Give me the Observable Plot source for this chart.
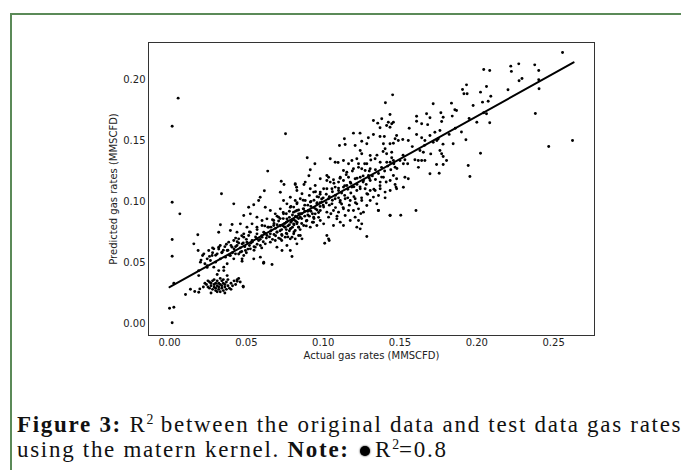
<!DOCTYPE html>
<html><head><meta charset="utf-8">
<script src="https://cdn.jsdelivr.net/npm/d3@7"></script>
<script src="https://cdn.jsdelivr.net/npm/@observablehq/plot@0.6"></script>
<style>
body{margin:0;background:#fff;}
#wrap{position:relative;width:681px;height:470px;overflow:hidden;background:#fff;}
#border{position:absolute;left:10px;top:13px;width:720px;height:520px;border-left:2px solid #5b8a58;border-top:2px solid #5b8a58;}
#chart{position:absolute;left:0;top:0;}
.cap{position:absolute;left:17px;font-family:"Liberation Serif","DejaVu Serif",serif;font-size:23px;line-height:26px;letter-spacing:1.7px;color:#111;white-space:nowrap;}
#cap1{top:412px;}
#cap2{top:437px;}
.cap sup{font-size:0.6em;line-height:0;vertical-align:0.6em;letter-spacing:0;}
.dot{display:inline-block;width:10px;height:10px;border-radius:50%;background:#000;box-shadow:0 0 2px #000;vertical-align:1px;margin:0 5px 0 3px;}
</style></head>
<body>
<div id="wrap">
<div id="border"></div>
<div id="chart"></div>
<div class="cap" id="cap1"><b>Figure 3:</b> R<sup>2</sup> between the original data and test data gas rates</div>
<div class="cap" id="cap2">using the matern kernel. <b>Note:</b> <span class="dot"></span>R<sup>2</sup>=0.8</div>
</div>
<script>
// Tick values
const xTicks = [0, 0.05, 0.10, 0.15, 0.20, 0.25];
const yTicks = [0, 0.05, 0.10, 0.15, 0.20];

// Fitted line (actual -> predicted)
const lineActual = [0, 0.263];
const linePredicted = [0.0298, 0.214];

// Scatter points [actual, predicted], grouped by region
const leftEdge = [[0.0017,0.1617],[0.0056,0.1847],[0.0017,0.0994],[0.0067,0.0899],[0.0017,0.0689],[0.0017,0.0552],[0.0000,0.0125],[0.0028,0.0134],[0.0017,0.0006],[0.0028,0.0330],[0.0104,0.0238],[0.0136,0.0281],[0.0164,0.0262],[0.0197,0.0284],[0.0190,0.0257],[0.0158,0.0653],[0.0184,0.0727],[0.0186,0.0598]];

const lowCluster = [[0.024,0.032],[0.025,0.030],[0.026,0.034],[0.026,0.029],[0.027,0.031],[0.027,0.033],[0.028,0.028],[0.028,0.035],[0.029,0.030],[0.029,0.032],[0.030,0.027],[0.030,0.029],[0.030,0.033],[0.031,0.031],[0.031,0.035],[0.032,0.028],[0.032,0.030],[0.032,0.033],[0.033,0.026],[0.033,0.032],[0.034,0.029],[0.034,0.031],[0.034,0.035],[0.035,0.027],[0.035,0.033],[0.036,0.030],[0.036,0.032],[0.037,0.028],[0.037,0.034],[0.038,0.031],[0.038,0.036],[0.039,0.029],[0.040,0.033],[0.041,0.031],[0.042,0.035],[0.043,0.032],[0.044,0.036],[0.046,0.034],[0.048,0.030],[0.029,0.036],[0.031,0.026],[0.027,0.025],[0.035,0.036],[0.033,0.037],[0.025,0.035],[0.022,0.030],[0.023,0.033],[0.040,0.028],[0.036,0.025],[0.045,0.037],[0.0440,0.0347],[0.0479,0.0306]];

const bandLow = [[0.019,0.0393],[0.031,0.0402],[0.0375,0.0393],[0.0353,0.0434],[0.0472,0.0511],[0.0612,0.0494],[0.0667,0.0484],
[0.0338,0.1063],[0.0418,0.0981],[0.0331,0.0809],[0.032,0.0748],[0.0407,0.0811],[0.0461,0.0817],[0.0205,0.052],[0.0215,0.0557],[0.023,0.049],[0.0245,0.046],[0.026,0.055],[0.028,0.058],
[0.0639,0.1249],[0.059,0.1035],[0.0623,0.0953],[0.058,0.1008],[0.0548,0.0973],[0.0483,0.0885],[0.0526,0.0899],[0.0515,0.0953],[0.0569,0.0872],[0.0602,0.0844],[0.0634,0.0858],[0.0504,0.079],[0.0537,0.0817],[0.0569,0.079],[0.0602,0.0803],[0.0645,0.079],[0.0396,0.0762],[0.0439,0.0749],[0.0483,0.0735],[0.0526,0.0749],[0.0569,0.0735],[0.0613,0.0749],
[0.0223,0.0571],[0.0255,0.0598],[0.0288,0.0612],[0.032,0.0626],[0.0245,0.053],[0.0277,0.0557],[0.031,0.0571],[0.0342,0.0585],[0.0375,0.0598],[0.0407,0.0626],[0.0439,0.064],[0.0472,0.0653],[0.0504,0.0667],[0.0537,0.068],[0.0569,0.0694],[0.0602,0.0708],[0.0634,0.0721],
[0.0266,0.0516],[0.0299,0.0503],[0.0331,0.053],[0.0364,0.0544],[0.0396,0.0557],[0.0429,0.0571],[0.0461,0.0585],[0.0494,0.0598],[0.0526,0.0612],[0.0558,0.0626],[0.0591,0.064],[0.0623,0.0653],
[0.0385,0.0667],[0.0418,0.068],[0.045,0.0694],[0.0483,0.0708],[0.0515,0.0721],
[0.0201,0.0503],[0.0245,0.0475],[0.0190,0.0434],[0.0288,0.0462],[0.0353,0.0462],[0.0375,0.049],[0.032,0.0434],[0.0418,0.053],[0.0472,0.053],[0.0483,0.0557],[0.0548,0.053],[0.0591,0.0544],[0.0613,0.0503],
[0.06,0.072],[0.058,0.068],[0.056,0.071],[0.054,0.067],[0.052,0.064],[0.05,0.069],[0.048,0.066],[0.046,0.062],[0.044,0.067],[0.042,0.061],[0.04,0.064],[0.038,0.06],[0.036,0.063],[0.034,0.058],[0.032,0.061],[0.03,0.056],[0.028,0.062],[0.062,0.074],[0.064,0.079],[0.0617,0.1088],
[0.041,0.058],[0.043,0.063],[0.045,0.066],[0.047,0.059],[0.049,0.063],[0.051,0.061],[0.053,0.066],[0.055,0.063],[0.057,0.065],[0.059,0.069],[0.061,0.067],[0.063,0.07],[0.045,0.057],[0.050,0.058],[0.055,0.06],[0.060,0.062],[0.039,0.056],[0.037,0.065],[0.043,0.070],[0.047,0.072],[0.052,0.075],[0.057,0.077],[0.062,0.080],[0.035,0.060],[0.033,0.064]];

const bandMid = [[0.0721,0.1076],[0.0786,0.1035],[0.0764,0.0981],[0.0742,0.1008],[0.0656,0.0926],[0.0688,0.0899],[0.0721,0.094],[0.0786,0.0953],[0.0807,0.0913],[0.0829,0.0981],[0.084,0.0899],[0.0678,0.0844],[0.071,0.0872],[0.0742,0.0899],[0.0764,0.0858],[0.0797,0.0844],[0.0829,0.0817],[0.0678,0.0803],[0.0721,0.0803],[0.0753,0.079],[0.0786,0.0776],[0.0818,0.0762],[0.0656,0.0735],[0.0699,0.0749],[0.0732,0.0721],[0.0764,0.0735],[0.0797,0.0708],[0.084,0.0721],
[0.0656,0.0667],[0.0688,0.068],[0.0721,0.0694],[0.0753,0.0708],
[0.0797,0.0549],[0.0786,0.0598],[0.0732,0.0598],[0.0699,0.0626],[0.0764,0.064],[0.0829,0.0653],[0.0818,0.0694],
[0.0755,0.1555],[0.0907,0.1211],[0.0727,0.1166],[0.0745,0.1139],[0.0818,0.1139],[0.0827,0.1117],[0.0875,0.1139],
[0.0981,0.1186],[0.0818,0.1145],[0.0829,0.109],[0.0862,0.1063],[0.0883,0.1159],[0.0916,0.1104],[0.0938,0.1077],[0.0948,0.1131],[0.097,0.1036],[0.0981,0.1077],[0.0818,0.1008],[0.0851,0.1022],[0.0883,0.1008],[0.0916,0.0995],[0.0959,0.0981],[0.0992,0.0995],[0.0808,0.0954],[0.0829,0.0926],[0.0873,0.094],[0.0905,0.0926],[0.0948,0.0899],[0.0981,0.0926],[0.0851,0.0872],[0.0894,0.0844],[0.0938,0.0872],[0.0981,0.0844],[0.0808,0.0817],[0.084,0.079],[0.0873,0.0803],[0.0916,0.079],[0.0959,0.0803],[0.0808,0.0735],[0.0851,0.0721],[0.0862,0.0694],[0.0786,0.0694],[0.0896,0.1358],[0.0916,0.126],[0.0946,0.1309],[0.0937,0.083],
[0.066,0.076],[0.068,0.082],[0.069,0.078],[0.07,0.075],[0.071,0.084],[0.072,0.08],[0.073,0.077],[0.074,0.086],[0.075,0.082],[0.075,0.079],[0.076,0.09],[0.077,0.084],[0.077,0.08],[0.078,0.087],[0.079,0.083],[0.079,0.078],[0.08,0.089],[0.081,0.085],[0.081,0.081],[0.082,0.092],[0.083,0.087],[0.083,0.083],[0.084,0.079],[0.085,0.09],[0.086,0.086],[0.087,0.094],[0.088,0.088],[0.089,0.084],[0.09,0.092],[0.091,0.088],[0.092,0.096],[0.093,0.09],[0.094,0.086],[0.095,0.094],[0.096,0.099],[0.097,0.091],[0.098,0.096],[0.099,0.102],[0.065,0.071],[0.067,0.069],[0.069,0.072],[0.071,0.07],[0.073,0.073],[0.076,0.074],[0.078,0.076],
[0.066,0.079],[0.067,0.085],[0.068,0.073],[0.070,0.081],[0.070,0.088],[0.072,0.076],[0.072,0.086],[0.074,0.080],[0.074,0.091],[0.076,0.083],[0.076,0.077],[0.078,0.081],[0.078,0.092],[0.080,0.085],[0.080,0.079],[0.082,0.088],[0.082,0.084],[0.084,0.086],[0.084,0.093],[0.086,0.090],[0.086,0.082],[0.088,0.092],[0.088,0.097],[0.090,0.089],[0.090,0.097],[0.092,0.092],[0.092,0.1],[0.094,0.095],[0.094,0.101],[0.096,0.093],[0.096,0.104],[0.098,0.099],[0.098,0.106],[0.100,0.097],[0.100,0.103],[0.073,0.068],[0.077,0.071],[0.081,0.075],[0.085,0.077],[0.089,0.080],[0.093,0.083],[0.097,0.087],[0.079,0.096],[0.083,0.099],[0.087,0.101],[0.091,0.105],[0.095,0.108]];

const bandHigh = [[0.1241,0.1418],[0.1251,0.1391],[0.1306,0.1377],[0.1338,0.135],[0.1371,0.1322],[0.1414,0.1322],[0.1436,0.1322],[0.1457,0.1336],[0.1046,0.135],[0.1078,0.1322],[0.1132,0.1336],[0.1165,0.1309],[0.1187,0.1336],[0.1219,0.135],[0.123,0.1309],[0.1284,0.1309],[0.1197,0.1268],[0.1251,0.1268],[0.1273,0.1254],[0.1306,0.1268],[0.1132,0.1254],[0.1154,0.124],[0.1024,0.1213],[0.1024,0.1172],[0.1035,0.1199],[0.1046,0.1159],[0.1111,0.1199],[0.11,0.1159],[0.1132,0.1172],[0.1165,0.1199],[0.1176,0.1159],[0.1208,0.1186],[0.1241,0.1199],[0.1262,0.1172],[0.1295,0.1213],[0.1306,0.1172],[0.1371,0.1159],[0.1392,0.1199],[0.1436,0.1172],[0.1474,0.1118],
[0.1003,0.1104],[0.1024,0.1104],[0.1057,0.1104],[0.1078,0.1118],[0.11,0.109],[0.1132,0.1118],[0.1154,0.1131],[0.1187,0.1118],[0.1219,0.109],[0.1241,0.1104],[0.1273,0.1104],[0.1306,0.109],[0.1338,0.109],[0.1371,0.1104],[0.1403,0.1077],[0.1436,0.109],[0.1284,0.1063],[0.1327,0.1036],[0.136,0.1049],[0.1403,0.103],[0.1306,0.1008],[0.1349,0.0981],
[0.1003,0.0954],[0.1035,0.1022],[0.1057,0.0981],[0.1078,0.1022],[0.1111,0.1008],[0.1143,0.1022],[0.1176,0.1008],[0.1208,0.1022],[0.1219,0.0981],[0.1251,0.1008],[0.1284,0.0967],
[0.1024,0.0913],[0.1067,0.0926],[0.11,0.0913],[0.1132,0.094],[0.1165,0.0926],[0.1197,0.0926],[0.123,0.094],[0.1262,0.0913],[0.1035,0.0872],[0.1089,0.0858],[0.1111,0.0831],[0.1143,0.0885],[0.1176,0.0844],[0.1208,0.0872],[0.123,0.0844],[0.1003,0.0817],[0.1067,0.0803],[0.1132,0.0803],[0.1219,0.079],[0.1251,0.0817],[0.1241,0.0776],[0.136,0.0926],[0.1436,0.0885],[0.1024,0.0721],[0.1035,0.0694],
[0.1435,0.1713],[0.1381,0.1678],[0.1424,0.165],[0.1446,0.1637],[0.1413,0.1623],[0.137,0.1604],[0.1327,0.1664],[0.1355,0.1642],[0.1197,0.156],[0.124,0.156],[0.1327,0.1549],[0.137,0.1533],[0.1398,0.1533],[0.1294,0.1522],[0.1251,0.1494],[0.1138,0.1514],[0.1106,0.1459],[0.1143,0.1467],[0.1208,0.1459],[0.1392,0.1473],[0.1468,0.1514],[0.1489,0.15],[0.1435,0.1473],[0.1403,0.1432],[0.1413,0.1391],[0.1446,0.1404],[0.1284,0.1473],[0.1452,0.1874],[0.1405,0.1809],[0.1097,0.132],[0.1067,0.1178],
[0.101,0.0658],[0.1039,0.068],[0.111,0.0994],[0.1245,0.0901],[0.1284,0.0713],[0.1359,0.0926],[0.1435,0.0888],
[0.102,0.099],[0.102,0.106],[0.104,0.104],[0.104,0.097],[0.106,0.101],[0.106,0.108],[0.108,0.105],[0.108,0.095],[0.110,0.103],[0.110,0.111],[0.112,0.107],[0.112,0.098],[0.114,0.105],[0.114,0.113],[0.116,0.110],[0.116,0.103],[0.118,0.107],[0.118,0.115],[0.120,0.112],[0.120,0.104],[0.122,0.114],[0.122,0.119],[0.124,0.112],[0.126,0.116],[0.126,0.121],[0.128,0.114],[0.130,0.119],[0.130,0.125],[0.132,0.121],[0.134,0.118],[0.134,0.126],[0.136,0.123],[0.138,0.128],[0.138,0.120],[0.140,0.125],[0.142,0.129],[0.144,0.126],[0.146,0.131],[0.148,0.127],[0.105,0.090],[0.109,0.088],[0.113,0.095],[0.117,0.097],[0.121,0.099],[0.125,0.103],[0.129,0.106],[0.133,0.110],[0.137,0.113],[0.141,0.116],[0.107,0.115],[0.111,0.119],[0.115,0.122],[0.119,0.125],[0.123,0.128],[0.127,0.131],[0.131,0.134],[0.135,0.138],[0.139,0.141]];

const upperRight = [[0.2045,0.2082],[0.2084,0.2074],[0.1933,0.1956],[0.1907,0.1918],[0.1916,0.1883],[0.1937,0.1883],[0.2063,0.1943],[0.2024,0.1896],[0.2091,0.1863],[0.2037,0.1814],[0.1976,0.1787],[0.2074,0.1822],[0.2063,0.1719],[0.2084,0.1645],[0.2045,0.1727],[0.1835,0.1806],[0.1857,0.1752],[0.1868,0.1746],[0.1716,0.1801],[0.1766,0.1727],[0.1673,0.1719],[0.1695,0.1686],[0.1771,0.1656],[0.1781,0.1691],[0.1608,0.1699],[0.1608,0.1658],[0.1641,0.1637],[0.1457,0.165],[0.1435,0.1609],
[0.176,0.1582],[0.1727,0.1568],[0.1695,0.1541],[0.1662,0.15],[0.1641,0.1522],[0.1608,0.1549],[0.1478,0.1541],[0.1457,0.1478],[0.1518,0.1508],[0.1554,0.15],[0.1716,0.1486],[0.1749,0.1514],[0.1846,0.1473],[0.1929,0.1506],
[0.163,0.1418],[0.1652,0.1404],[0.1619,0.1336],[0.1641,0.1336],[0.1662,0.1336],[0.1597,0.1342],[0.176,0.1418],[0.1771,0.1391],[0.1781,0.1369],[0.1803,0.1336],[0.1738,0.1303],[0.1781,0.1303],[0.1695,0.1227],[0.1755,0.1232],[0.1944,0.1295],[0.1955,0.1205],[0.2024,0.1396],[0.1532,0.1342],[0.1522,0.1309],[0.1468,0.1281],[0.1457,0.1213],[0.1478,0.1186],[0.1532,0.1199],[0.1554,0.1186],[0.1468,0.1139],[0.1522,0.1117],[0.1478,0.1104],[0.1446,0.1358],[0.15,0.1336],
[0.2203,0.1916],[0.2221,0.2109],[0.2273,0.2128],[0.2225,0.2066],[0.2377,0.212],[0.2403,0.2074],[0.2275,0.1989],[0.2294,0.2008],[0.2403,0.1998],[0.2405,0.1924],[0.2381,0.1721],
[0.2558,0.2221],[0.2623,0.1500],[0.2468,0.1451],[0.1505,0.0888],[0.1604,0.0926],
[0.152,0.138],[0.155,0.131],[0.158,0.145],[0.162,0.128],[0.166,0.146],[0.170,0.139],[0.174,0.15],[0.178,0.147],[0.182,0.155],[0.186,0.16],[0.19,0.157],[0.195,0.168],[0.2,0.165],[0.156,0.16],[0.168,0.163],[0.184,0.17]];

const points = [...leftEdge, ...lowCluster, ...bandLow, ...bandMid, ...bandHigh, ...upperRight]
  .map(([a, p]) => ({actual: a, predicted: p}));
const fit = lineActual.map((a, i) => ({actual: a, predicted: linePredicted[i]}));

const fmt = d3.format(".2f");
const chart = Plot.plot({
  width: 681,
  height: 400,
  marginLeft: 148,
  marginRight: 87,
  marginTop: 42,
  marginBottom: 65,
  style: {fontFamily: "DejaVu Sans", fontSize: "10px", color: "#222", background: "transparent"},
  x: {domain: [-0.0137, 0.2766]},
  y: {domain: [-0.0098, 0.2303]},
  marks: [
    Plot.dot(points, {x: "actual", y: "predicted", r: 1.45, fill: "#000", stroke: "none"}),
    Plot.line(fit, {x: "actual", y: "predicted", stroke: "#000", strokeWidth: 2}),
    Plot.frame({stroke: "#333", strokeWidth: 1}),
    Plot.axisX({ticks: xTicks, tickFormat: fmt, tickSize: 0, tickPadding: 3, label: null}),
    Plot.axisY({ticks: yTicks, tickFormat: fmt, tickSize: 0, tickPadding: 3, label: null}),
    Plot.text(["Actual gas rates (MMSCFD)"], {frameAnchor: "bottom", dy: 20, lineAnchor: "middle", textAnchor: "middle", text: d => d, fill: "#222"}),
    Plot.text(["Predicted gas rates (MMSCFD)"], {frameAnchor: "left", dx: -35, rotate: -90, lineAnchor: "middle", textAnchor: "middle", text: d => d, fill: "#222"})
  ]
});
document.getElementById("chart").appendChild(chart);
</script>
</body></html>
